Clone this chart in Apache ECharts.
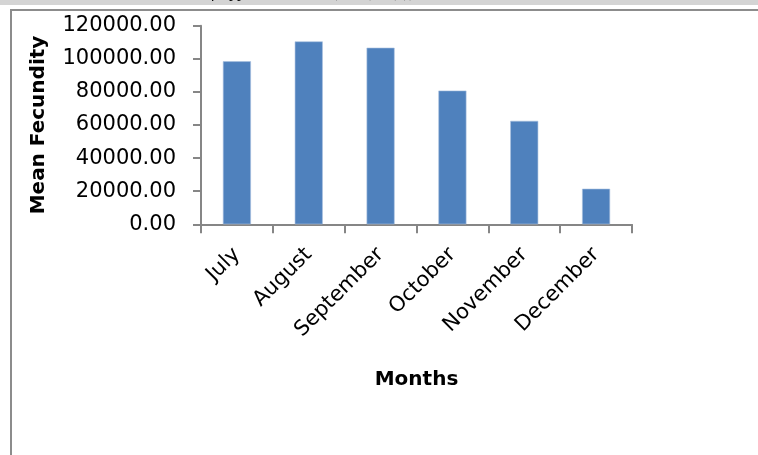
<!DOCTYPE html>
<html>
<head>
<meta charset="utf-8">
<style>
html,body{margin:0;padding:0;background:#fff;}
#chart{width:758px;height:455px;}
</style>
<script src="https://cdn.jsdelivr.net/npm/echarts@6/dist/echarts.min.js"></script>
</head>
<body>
<div id="chart"></div>
<script>
const months = ['July', 'August', 'September', 'October', 'November', 'December'];
const meanFecundity = [98500, 110500, 106700, 80800, 62500, 21500];
const yTicks = { min: 0, max: 120000, interval: 20000 };
const yAxisTitle = 'Mean Fecundity';
const xAxisTitle = 'Months';
const headerText = 'Journal of Applied Sciences (2013), 3(2))';

const FONT = 'DejaVu Sans';
const chart = echarts.init(document.getElementById('chart'), null, { renderer: 'canvas' });
chart.setOption({
  animation: false,
  backgroundColor: '#ffffff',
  graphic: [
    { type: 'rect', shape: { x: 0, y: 0, width: 758, height: 5 }, style: { fill: '#d4d4d4' }, z: -1 },
    { type: 'text', left: 150, top: -15, style: { text: headerText, font: 'italic 16px "Liberation Serif"', fill: '#000' } },
    { type: 'line', shape: { x1: 10, y1: 10, x2: 758, y2: 10 }, style: { stroke: '#8c8c8c', lineWidth: 2 } },
    { type: 'line', shape: { x1: 11, y1: 9, x2: 11, y2: 455 }, style: { stroke: '#8c8c8c', lineWidth: 2 } }
  ],
  grid: { left: 201, right: 126, top: 25.7, bottom: 230.7, containLabel: false },
  xAxis: {
    type: 'category',
    data: months,
    name: xAxisTitle,
    nameLocation: 'middle',
    nameGap: 145,
    nameTextStyle: { fontFamily: FONT, fontSize: 20, fontWeight: 'bold', color: '#000' },
    axisLine: { lineStyle: { color: '#868686', width: 2 } },
    axisTick: { show: true, length: 9, lineStyle: { color: '#868686', width: 2 } },
    axisLabel: { rotate: 45, margin: 27, fontFamily: FONT, fontSize: 21, color: '#000', interval: 0 }
  },
  yAxis: {
    type: 'value',
    min: yTicks.min, max: yTicks.max, interval: yTicks.interval,
    name: yAxisTitle,
    nameLocation: 'middle',
    nameGap: 152,
    nameTextStyle: { fontFamily: FONT, fontSize: 20, fontWeight: 'bold', color: '#000' },
    axisLine: { show: true, lineStyle: { color: '#868686', width: 2 } },
    axisTick: { show: true, length: 8, lineStyle: { color: '#868686', width: 2 } },
    splitLine: { show: false },
    axisLabel: { margin: 25, fontFamily: FONT, fontSize: 21, color: '#000', formatter: v => v.toFixed(2) }
  },
  series: [{
    type: 'bar',
    data: meanFecundity,
    barWidth: 28,
    itemStyle: { color: '#4f81bd', borderColor: '#a7bfdf', borderWidth: 0.6 }
  }]
});
</script>
</body>
</html>
